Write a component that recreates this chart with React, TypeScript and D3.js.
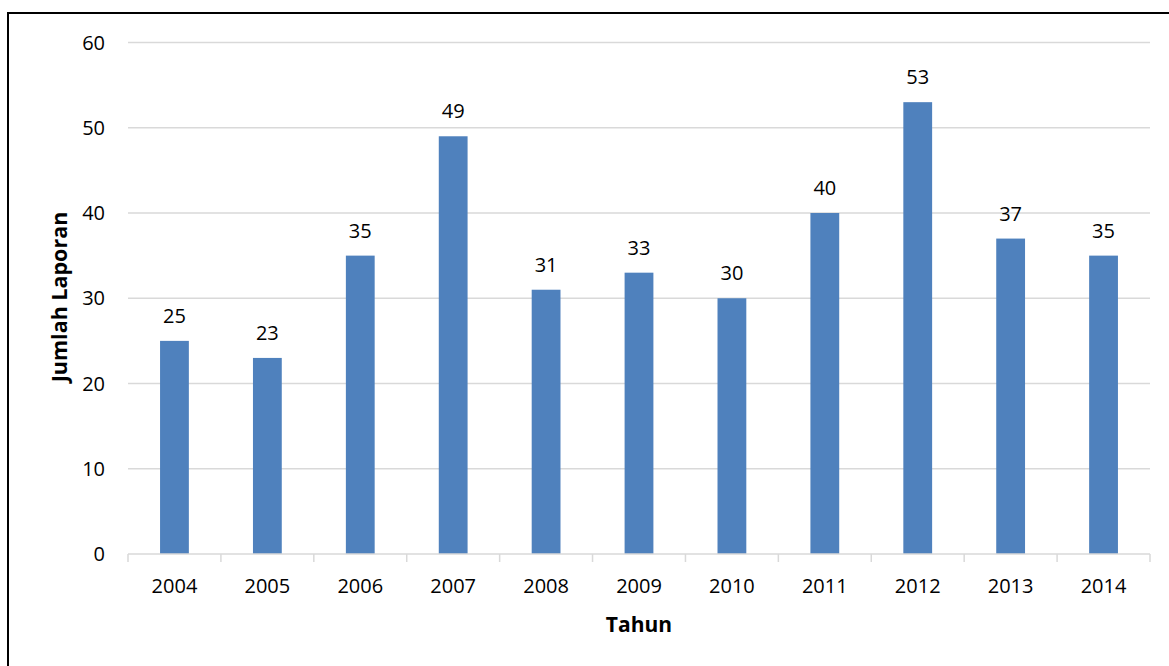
import React from "react";
import * as d3 from "d3";

const years = ["2004", "2005", "2006", "2007", "2008", "2009", "2010", "2011", "2012", "2013", "2014"];
const reports = [25, 23, 35, 49, 31, 33, 30, 40, 53, 37, 35];
const yTicks = [0, 10, 20, 30, 40, 50, 60];
const yTitle = "Jumlah Laporan";
const xTitle = "Tahun";

const W = 1169;
const H = 666;
const left = 128;
const right = 1150;
const top = 42.5;
const bottom = 554;
const font = "'Open Sans', 'Liberation Sans', sans-serif";

export default function App() {
  const x = d3.scaleBand<string>().domain(years).range([left, right]).paddingInner(0).paddingOuter(0);
  const y = d3.scaleLinear().domain([0, 60]).range([bottom, top]);
  const barW = x.bandwidth() * 0.31;
  const boundaries = [...years.map((d) => x(d) as number), right];

  return (
    <svg width={W} height={H} style={{ position: "absolute", left: 0, top: 0, background: "#fff" }}>
      <rect x={8} y={13} width={1300} height={800} fill="#fff" stroke="#000" strokeWidth={2} />
      {yTicks.map((t) => (
        <g key={t}>
          {t > 0 && (
            <line x1={left} x2={right} y1={y(t)} y2={y(t)} stroke="#d9d9d9" strokeWidth={1.5} />
          )}
          <text x={105} y={y(t)} dy="0.35em" textAnchor="end" fontFamily={font} fontSize={20} fill="#000">
            {t}
          </text>
        </g>
      ))}
      {years.map((yr, i) => {
        const cx = (x(yr) as number) + x.bandwidth() / 2;
        return (
          <g key={yr}>
            <rect x={cx - barW / 2} y={y(reports[i])} width={barW} height={bottom - y(reports[i])} fill="#4f81bd" />
            <text x={cx} y={y(reports[i]) - 18} textAnchor="middle" fontFamily={font} fontSize={20} fill="#000">
              {reports[i]}
            </text>
            <text x={cx} y={586} dy="0.35em" textAnchor="middle" fontFamily={font} fontSize={20} fill="#000">
              {yr}
            </text>
          </g>
        );
      })}
      <line x1={left} x2={right} y1={bottom} y2={bottom} stroke="#d9d9d9" strokeWidth={1.5} />
      {boundaries.map((b, i) => (
        <line key={i} x1={b} x2={b} y1={bottom} y2={bottom + 8} stroke="#d9d9d9" strokeWidth={1.5} />
      ))}
      <text x={639} y={625} dy="0.35em" textAnchor="middle" fontFamily={font} fontSize={21} fontWeight="bold" fill="#000">
        {xTitle}
      </text>
      <text
        transform={`translate(59,297) rotate(-90)`}
        dy="0.35em"
        textAnchor="middle"
        fontFamily={font}
        fontSize={21.5}
        fontWeight="bold"
        fill="#000"
      >
        {yTitle}
      </text>
    </svg>
  );
}
